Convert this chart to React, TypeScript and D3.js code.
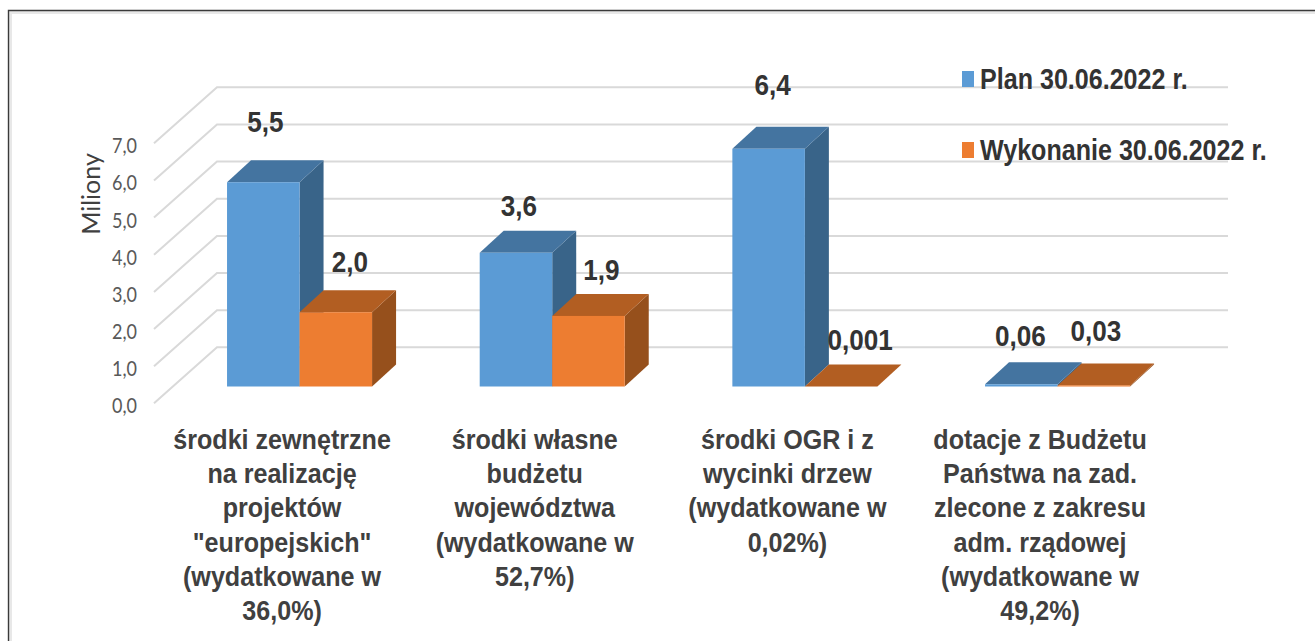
import React, { useEffect, useRef } from "react";
import * as d3 from "d3";

const categories = ["zewn", "wlasne", "ogr", "dotacje"];
const categoryLines = [
  ["środki zewnętrzne", "na realizację", "projektów", "\"europejskich\"", "(wydatkowane w", "36,0%)"],
  ["środki własne", "budżetu", "województwa", "(wydatkowane w", "52,7%)"],
  ["środki OGR i z", "wycinki drzew", "(wydatkowane w", "0,02%)"],
  ["dotacje z Budżetu", "Państwa na zad.", "zlecone z zakresu", "adm. rządowej", "(wydatkowane w", "49,2%)"],
];
const seriesNames = ["Plan 30.06.2022 r.", "Wykonanie 30.06.2022 r."];
const planValues = [5.5, 3.6, 6.4, 0.06];
const doneValues = [2.0, 1.9, 0.001, 0.03];
const planLabels = ["5,5", "3,6", "6,4", "0,06"];
const doneLabels = ["2,0", "1,9", "0,001", "0,03"];
const tickValues = [0, 1, 2, 3, 4, 5, 6, 7];

const colors = [
  { front: "#5b9bd5", top: "#4474a0", side: "#396489" },
  { front: "#ed7d31", top: "#b25e22", side: "#96501c" },
];

// hand moved data labels in the original, offsets from the bar top centre
const planNudge = [[2, -50], [3, -37], [4, -54], [-1, -38]];
const doneNudge = [[14, -40], [13, -36], [19, -36], [2, -44]];

const labelFont = "'Liberation Sans', sans-serif";
const tickFont = "Lato, 'Open Sans', sans-serif";

export default function App() {
  const ref = useRef<SVGSVGElement>(null);

  useEffect(() => {
    const svg = d3.select(ref.current);
    svg.selectAll("*").remove();

    const depthX = 24;
    const depthY = -22;
    const unit = 37.14;
    const y = d3.scaleLinear().domain([0, 7]).range([0, -7 * unit]);

    // narrowed bold text, the original font is squeezed
    const boldText = (px: number, py: number, str: string, size: number, sx: number, fill: string, anchor: string) =>
      svg.append("text").attr("transform", `translate(${px},${py}) scale(${sx},1)`)
        .attr("text-anchor", anchor).attr("font-family", labelFont).attr("font-weight", 700)
        .attr("font-size", size).attr("fill", fill).text(str);

    // frame, only top and left show
    svg.append("path").attr("d", "M10.5,641V12.5H1315").attr("fill", "none").attr("stroke", "#e8e8e8").attr("stroke-width", 3);
    svg.append("path").attr("d", "M8.5,641V10.5H1315").attr("fill", "none").attr("stroke", "#3a3a3a").attr("stroke-width", 1.4);

    // back wall and side wall gridlines
    const grid = svg.append("g").attr("fill", "none").attr("stroke", "#d9d9d9").attr("stroke-width", 2);
    tickValues.forEach((t) => {
      const back = 347.3 + y(t);
      grid.append("path").attr("d", `M154,${back + 56}L217,${back}H1228`);
    });

    // value axis, drawn on the front edge of the side wall
    const axis = svg.append("g").attr("transform", "translate(137,406)")
      .call(d3.axisLeft(y).tickValues(tickValues).tickSize(0).tickPadding(0)
        .tickFormat((d) => d3.format(".1f")(d as number).replace(".", ",")));
    axis.select(".domain").remove();
    axis.selectAll("text").attr("font-family", tickFont).attr("font-size", 21).attr("fill", "#595959")
      .attr("textLength", 25).attr("lengthAdjust", "spacingAndGlyphs");

    svg.append("text").attr("transform", "translate(100,194) rotate(-90)")
      .attr("text-anchor", "middle").attr("font-family", tickFont).attr("font-size", 25)
      .attr("fill", "#404040").text("Miliony");

    // bars
    const x0 = d3.scaleBand().domain(categories).range([176.5, 1180.6]).paddingInner(0.426).paddingOuter(0.2);
    const x1 = d3.scaleBand().domain(["0", "1"]).range([0, x0.bandwidth()]);
    const base = 386.5;

    [planValues, doneValues].forEach((vals, s) => {
      const c = colors[s];
      vals.forEach((v, i) => {
        const left = x0(categories[i])! + x1(String(s))!;
        const w = x1.bandwidth();
        const top = base + y(v);
        const g = svg.append("g");
        g.append("path").attr("fill", c.side)
          .attr("d", `M${left + w},${top}l${depthX},${depthY}V${base + depthY}l${-depthX},${-depthY}Z`);
        g.append("path").attr("fill", c.top)
          .attr("d", `M${left},${top}l${depthX},${depthY}h${w}l${-depthX},${-depthY}Z`);
        g.append("rect").attr("x", left).attr("y", top).attr("width", w).attr("height", base - top).attr("fill", c.front);
      });
    });

    // data labels
    [planLabels, doneLabels].forEach((labels, s) => {
      const vals = s === 0 ? planValues : doneValues;
      const nudge = s === 0 ? planNudge : doneNudge;
      labels.forEach((lab, i) => {
        const cx = x0(categories[i])! + x1(String(s))! + x1.bandwidth() / 2;
        boldText(cx + nudge[i][0], base + y(vals[i]) + nudge[i][1], lab, 30, 0.87, "#333", "middle");
      });
    });

    // category labels
    categoryLines.forEach((lines, i) => {
      const cx = x0(categories[i])! + x0.bandwidth() / 2 - 17.5;
      lines.forEach((line, k) => {
        boldText(cx, 449 + k * 34.2, line, 27, 0.93, "#404040", "middle");
      });
    });

    // legend
    seriesNames.forEach((name, s) => {
      const ly = s === 0 ? 79 : 150;
      svg.append("rect").attr("x", 962).attr("y", ly - 8).attr("width", 12).attr("height", 16).attr("fill", colors[s].front);
      boldText(980, ly + 10, name, 29, 0.865, "#333", "start");
    });
  }, []);

  return <svg ref={ref} width={1315} height={641} style={{ position: "absolute", left: 0, top: 0, background: "#fff" }} />;
}
